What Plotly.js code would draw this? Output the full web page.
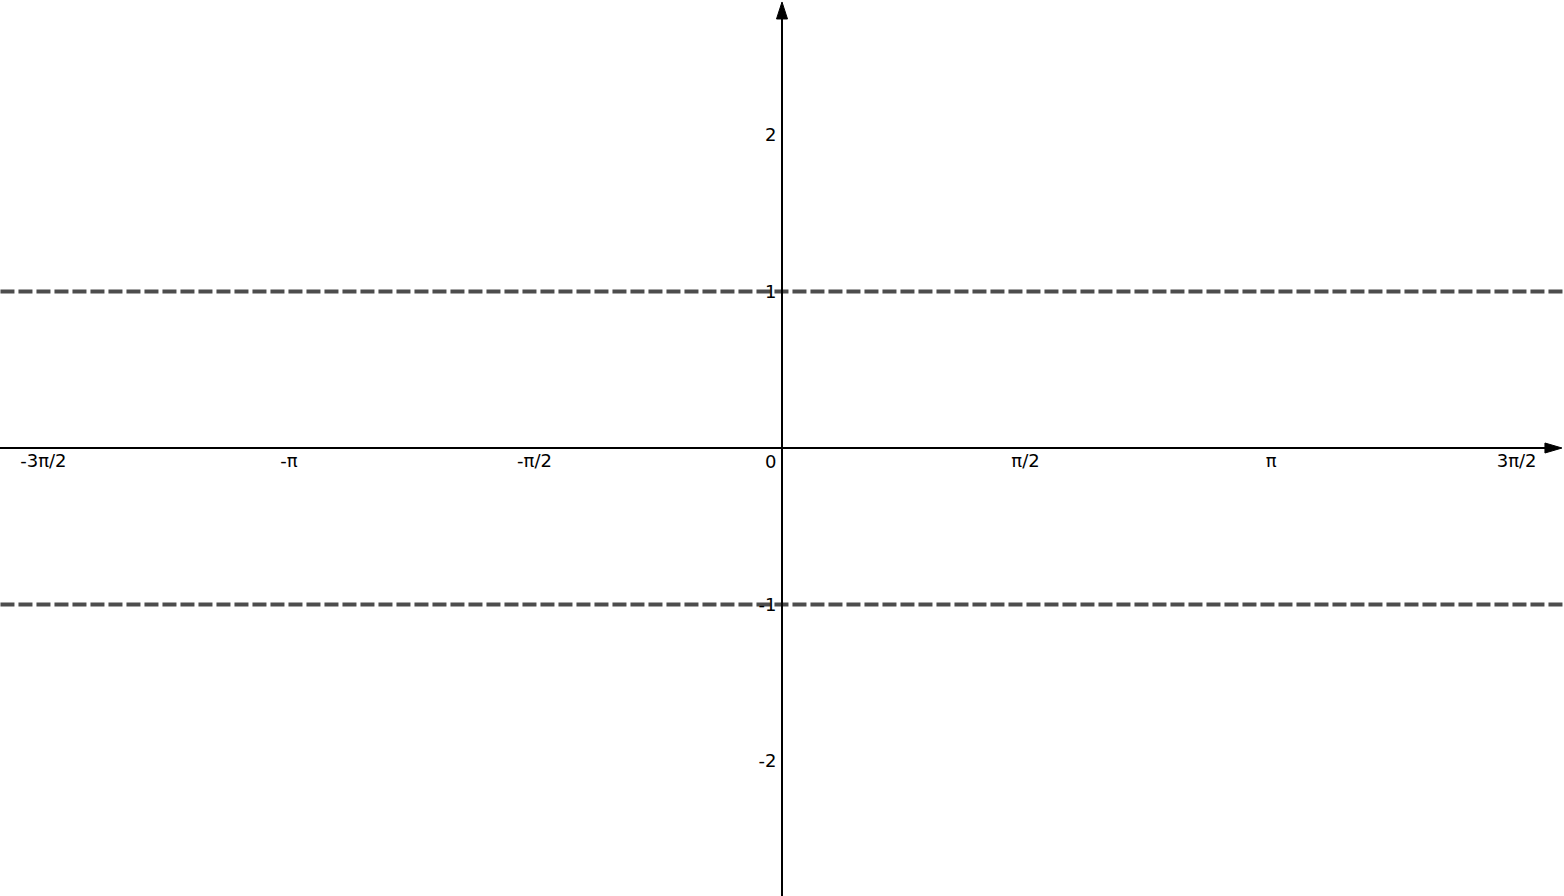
<!DOCTYPE html>
<html>
<head>
<meta charset="utf-8">
<script src="https://cdn.plot.ly/plotly-3.0.1.min.js"></script>
<style>html,body{margin:0;padding:0;background:#fff;}#chart{width:1564px;height:896px;}</style>
</head>
<body>
<div id="chart"></div>
<script>
// Data
const boundX = [-5, 5];
const upperBound = [1, 1];
const lowerBound = [-1, -1];
const xTickVals = [-3*Math.PI/2, -Math.PI, -Math.PI/2, Math.PI/2, Math.PI, 3*Math.PI/2];
const xTickText = ['-3π/2', '-π', '-π/2', 'π/2', 'π', '3π/2'];
const yTickVals = [-2, -1, 1, 2];
const yTickText = ['-2', '-1', '1', '2'];
const xRange = [-5.003, 5.003];
const yRange = [-2.863, 2.863];

const dashStyle = {color: '#4d4d4d', width: 4, dash: '14px,4px'};
const traces = [
  {x: boundX, y: upperBound, mode: 'lines', line: dashStyle, hoverinfo: 'skip', showlegend: false},
  {x: boundX, y: lowerBound, mode: 'lines', line: dashStyle, hoverinfo: 'skip', showlegend: false}
];

const font = {family: 'DejaVu Sans', size: 18, color: '#000'};
const layout = {
  width: 1564, height: 896,
  margin: {l: 0, r: 0, t: 0, b: 0, pad: 0},
  paper_bgcolor: '#fff', plot_bgcolor: '#fff',
  showlegend: false,
  font: font,
  xaxis: {
    range: xRange, anchor: 'free', position: 0.5,
    showgrid: false, zeroline: false, showline: false,
    tickmode: 'array', tickvals: xTickVals, ticktext: xTickText,
    ticks: '', ticklabelshift: -2,
    tickfont: font, fixedrange: true
  },
  yaxis: {
    range: yRange, anchor: 'free', position: 0.5,
    showgrid: false, zeroline: false, showline: false,
    tickmode: 'array', tickvals: yTickVals, ticktext: yTickText,
    ticks: 'outside', ticklen: 2, tickcolor: 'rgba(0,0,0,0)',
    tickfont: font, fixedrange: true
  },
  shapes: [
    {type: 'line', xref: 'paper', yref: 'y', x0: 0, x1: 0.989, y0: 0, y1: 0, line: {color: '#000', width: 2}, layer: 'above'},
    {type: 'line', xref: 'x', yref: 'paper', x0: 0, x1: 0, y0: 0, y1: 0.985, line: {color: '#000', width: 2}, layer: 'above'},
    {type: 'path', xref: 'paper', yref: 'y', xsizemode: 'pixel', ysizemode: 'pixel', xanchor: 0.9987, yanchor: 0,
     path: 'M-17,-5 L0,0 L-17,5 Z', fillcolor: '#000', line: {color: '#000', width: 1}, layer: 'above'},
    {type: 'path', xref: 'x', yref: 'paper', xsizemode: 'pixel', ysizemode: 'pixel', xanchor: 0, yanchor: 0.9978,
     path: 'M-5.5,-17 L0,0 L5.5,-17 Z', fillcolor: '#000', line: {color: '#000', width: 1}, layer: 'above'}
  ],
  annotations: [
    {x: 0, y: 0, xref: 'x', yref: 'y', text: '0', showarrow: false, xanchor: 'right', yanchor: 'top', xshift: -4, yshift: -1, font: font}
  ]
};

Plotly.newPlot('chart', traces, layout, {displayModeBar: false, staticPlot: true});
</script>
</body>
</html>
